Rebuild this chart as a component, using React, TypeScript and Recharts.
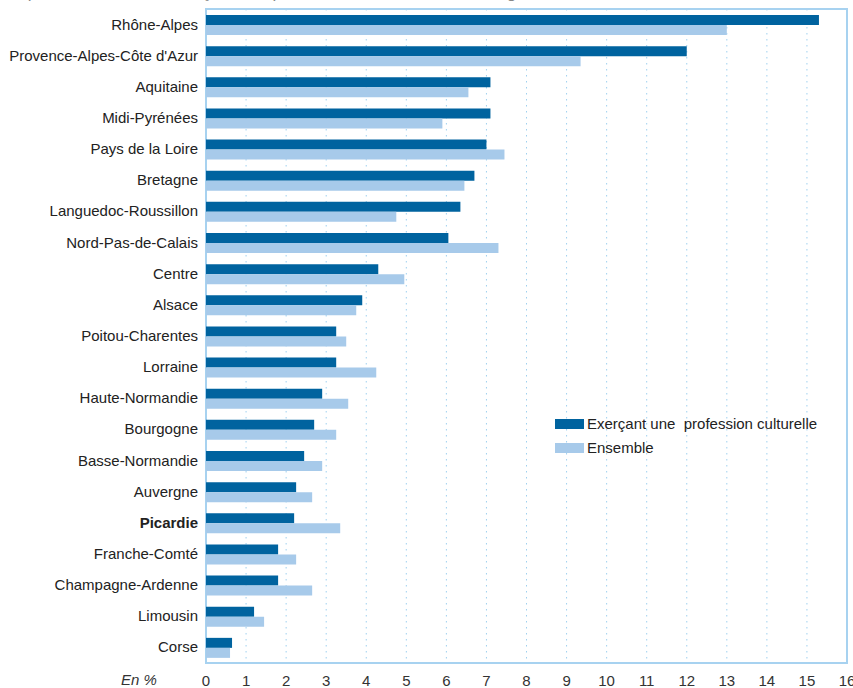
import React from 'react';
import { BarChart, Bar, XAxis, YAxis, CartesianGrid, ReferenceArea } from 'recharts';

const regions = [
  'Rhône-Alpes', "Provence-Alpes-Côte d'Azur", 'Aquitaine', 'Midi-Pyrénées', 'Pays de la Loire',
  'Bretagne', 'Languedoc-Roussillon', 'Nord-Pas-de-Calais', 'Centre', 'Alsace', 'Poitou-Charentes',
  'Lorraine', 'Haute-Normandie', 'Bourgogne', 'Basse-Normandie', 'Auvergne', 'Picardie',
  'Franche-Comté', 'Champagne-Ardenne', 'Limousin', 'Corse',
];
const culturelle = [15.3, 12.0, 7.1, 7.1, 7.0, 6.7, 6.35, 6.05, 4.3, 3.9, 3.25, 3.25, 2.9, 2.7, 2.45, 2.25, 2.2, 1.8, 1.8, 1.2, 0.65];
const ensemble = [13.0, 9.35, 6.55, 5.9, 7.45, 6.45, 4.75, 7.3, 4.95, 3.75, 3.5, 4.25, 3.55, 3.25, 2.9, 2.65, 3.35, 2.25, 2.65, 1.45, 0.6];
const xTicks = [0, 1, 2, 3, 4, 5, 6, 7, 8, 9, 10, 11, 12, 13, 14, 15, 16];

const DARK = '#00639f';
const LIGHT = '#a7caea';
const FONT = "'Liberation Sans Narrow', 'Liberation Sans', Arial, sans-serif";

const data = regions.map((r, i) => ({ region: r, culturelle: culturelle[i], ensemble: ensemble[i] }));

const RegionTick = (props: any) => {
  const { x, y, payload } = props;
  const bold = payload.value === 'Picardie';
  return (
    <text x={x} y={y} dy={5} textAnchor="end" fill="#222" fontSize={15} fontFamily={FONT} fontWeight={bold ? 'bold' : 'normal'}>
      {payload.value}
    </text>
  );
};

const legendItems = [
  { c: DARK, t: 'Exerçant une  profession culturelle' },
  { c: LIGHT, t: 'Ensemble' },
];

export default function App() {
  return (
    <div style={{ position: 'absolute', left: 0, top: 0, width: 853, height: 688, overflow: 'hidden', background: '#fff' }}>
      <div style={{ position: 'absolute', left: 6, top: -17, fontFamily: FONT, fontSize: 17, color: '#888', whiteSpace: 'nowrap' }}>
        Répartition des actifs exerçant une profession culturelle selon la région
      </div>
      <BarChart
        width={853}
        height={688}
        data={data}
        layout="vertical"
        margin={{ top: 9, right: 6, bottom: 0, left: 0 }}
        barSize={10}
        barGap={0}
      >
        <CartesianGrid horizontal={false} stroke="#9fd0ef" strokeDasharray="1.5 4.5" />
        <XAxis
          type="number"
          domain={[0, 16]}
          ticks={xTicks}
          interval={0}
          height={25}
          tickLine={false}
          axisLine={false}
          tickMargin={6}
          tick={{ fill: '#333', fontSize: 15, fontFamily: FONT }}
        />
        <YAxis
          type="category"
          dataKey="region"
          width={206}
          tickLine={false}
          axisLine={false}
          interval={0}
          tick={<RegionTick />}
        />
        <Bar dataKey="culturelle" fill={DARK} isAnimationActive={false} />
        <Bar dataKey="ensemble" fill={LIGHT} isAnimationActive={false} />
        <ReferenceArea x1={0} x2={16} fill="none" stroke="#a7d2f0" strokeWidth={2} ifOverflow="visible" />
      </BarChart>
      <div style={{ position: 'absolute', left: 555, top: 412, fontFamily: FONT, fontSize: 15, color: '#222', lineHeight: '24px' }}>
        {legendItems.map((d) => (
          <div key={d.t} style={{ display: 'flex', alignItems: 'center', whiteSpace: 'pre' }}>
            <span style={{ display: 'inline-block', width: 29, height: 10, background: d.c, marginRight: 3 }} />
            {d.t}
          </div>
        ))}
      </div>
      <div style={{ position: 'absolute', left: 121, top: 671, fontFamily: FONT, fontSize: 15, fontStyle: 'italic', color: '#333' }}>
        En %
      </div>
    </div>
  );
}
